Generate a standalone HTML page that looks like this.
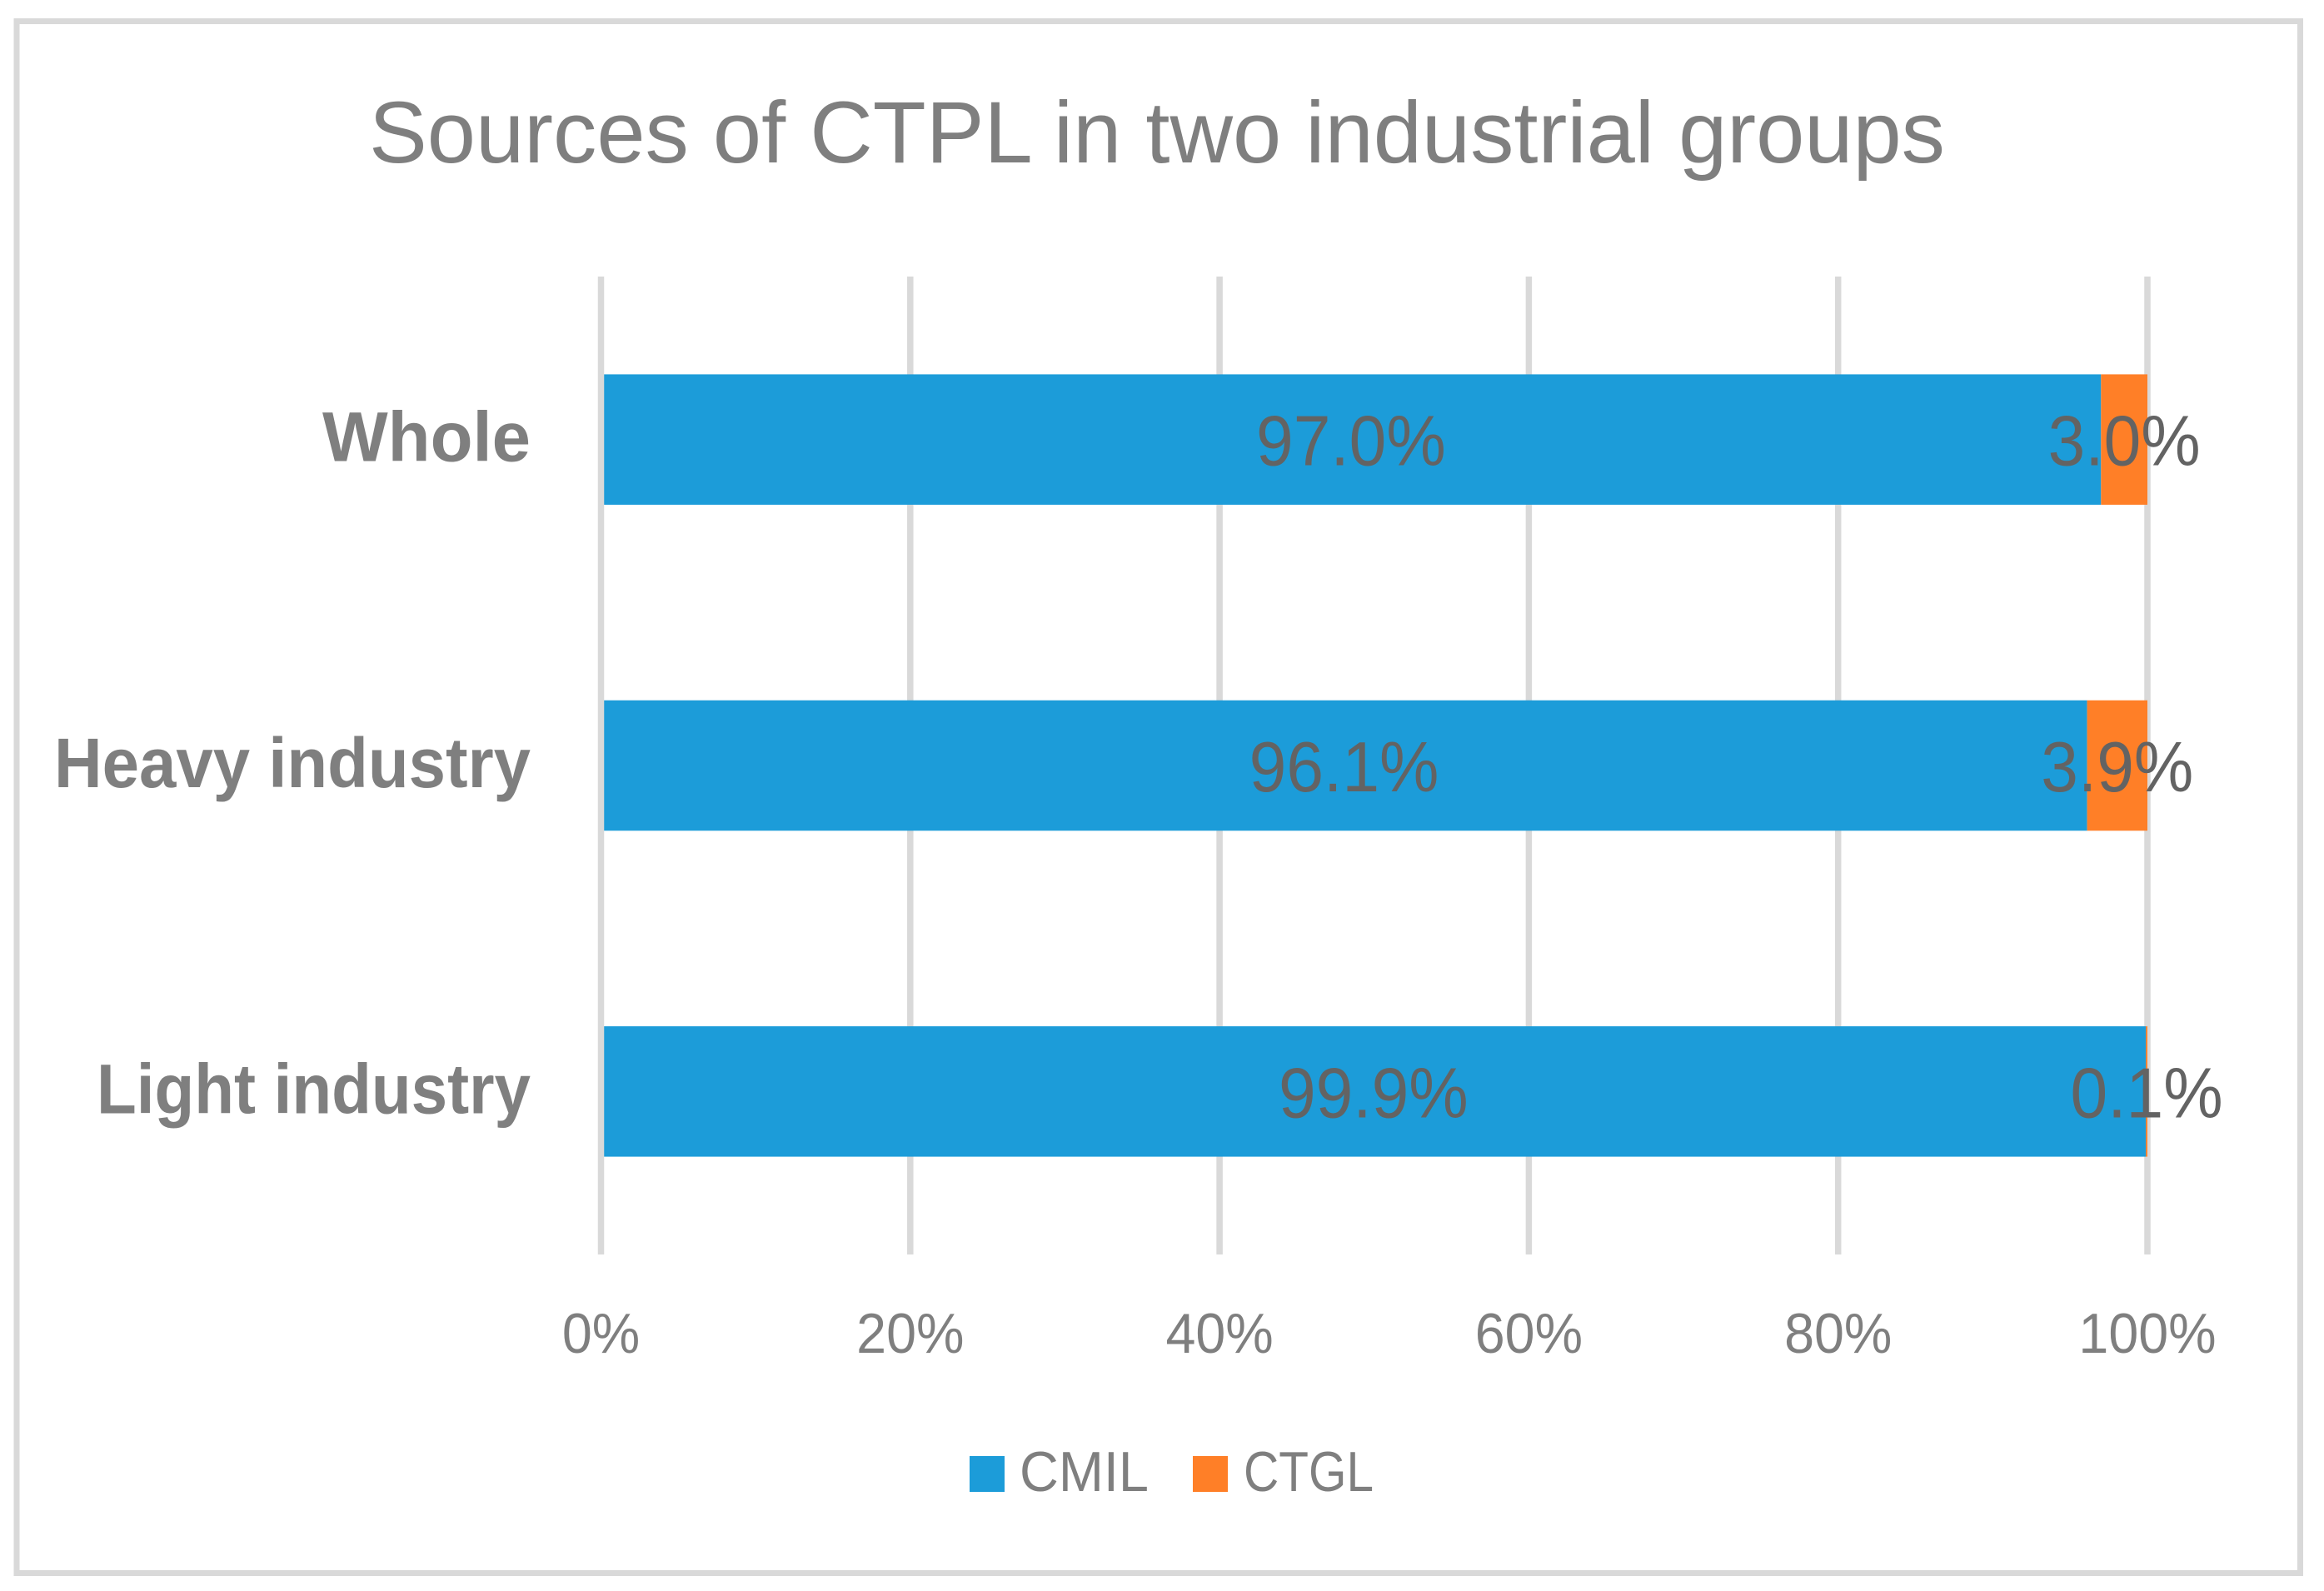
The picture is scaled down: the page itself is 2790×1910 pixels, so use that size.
<!DOCTYPE html>
<html lang="en">
<head>
<meta charset="utf-8">
<title>Sources of CTPL in two industrial groups</title>
<style>
  html, body { margin: 0; padding: 0; background: #ffffff; }
  svg { display: block; font-family: "Liberation Sans", sans-serif; }
</style>
</head>
<body>
<svg id="chart" xmlns="http://www.w3.org/2000/svg" width="2790" height="1910" viewBox="0 0 2790 1910">
  <rect x="0" y="0" width="2790" height="1910" fill="#ffffff"/>
  <rect x="20" y="25.5" width="2741.5" height="1863" fill="#ffffff" stroke="#d9d9d9" stroke-width="7"/>
  <text x="443" y="195" font-size="105" fill="#7f7f7f" textLength="1892" lengthAdjust="spacingAndGlyphs">Sources of CTPL in two industrial groups</text>
  <g id="grid"></g>
  <g id="bars"></g>
  <g id="axis"></g>
  <g id="labels"></g>
  <g id="cats"></g>
  <g id="ticks"></g>
  <g>
    <g>
      <rect x="1164" y="1748" width="42" height="43" fill="#1c9cd9"/>
      <text x="1224" y="1790" font-size="68" fill="#7f7f7f" textLength="155" lengthAdjust="spacingAndGlyphs">CMIL</text>
    </g>
    <g>
      <rect x="1432" y="1748" width="42" height="43" fill="#ff7f27"/>
      <text x="1493" y="1790" font-size="68" fill="#7f7f7f" textLength="156" lengthAdjust="spacingAndGlyphs">CTGL</text>
    </g>
  </g>
</svg>
<script>
const categories = ["Whole", "Heavy industry", "Light industry"];
const cmilValues = [97.0, 96.1, 99.9];
const ctglValues = [3.0, 3.9, 0.1];
const tickValues = [0, 20, 40, 60, 80, 100];
const tickLabels = ["0%", "20%", "40%", "60%", "80%", "100%"];

const SVG_NS = "http://www.w3.org/2000/svg";
const plotLeft = 721.5, plotRight = 2578, plotTop = 332, plotBottom = 1506;
const barFraction = 0.4;

function xScale(v) { return plotLeft + (v / 100) * (plotRight - plotLeft); }
function bandHeight() { return (plotBottom - plotTop) / categories.length; }
function bandCenter(i) { return plotTop + bandHeight() * (i + 0.5); }

function make(tag, attrs, parent, text) {
  const el = document.createElementNS(SVG_NS, tag);
  for (const k in attrs) el.setAttribute(k, attrs[k]);
  if (text !== undefined) el.textContent = text;
  parent.appendChild(el);
  return el;
}
function slug(s) { return s.toLowerCase().replace(/\s+/g, "-"); }

const gridG = document.getElementById("grid");
const barsG = document.getElementById("bars");
const axisG = document.getElementById("axis");
const labelsG = document.getElementById("labels");
const catsG = document.getElementById("cats");
const ticksG = document.getElementById("ticks");

const tickScaleX = 0.95;
const labelScaleX = 0.945;
const catLabelWidths = { "Whole": 250, "Heavy industry": 572, "Light industry": 521 };

tickValues.forEach(function (t, i) {
  const x = xScale(t);
  const target = t === 0 ? axisG : gridG;
  const line = make("line", { x1: x, x2: x, y1: plotTop, y2: plotBottom, stroke: "#d9d9d9", "stroke-width": 7.5 }, target);
  
  
  const label = make("text", {
    transform: "translate(" + x + ",1624) scale(" + tickScaleX + ",1)",
    "text-anchor": "middle", "font-size": 68, fill: "#7f7f7f"
  }, ticksG, tickLabels[i]);
  
  
});

categories.forEach(function (cat, i) {
  const cy = bandCenter(i);
  const h = bandHeight() * barFraction;
  const x0 = xScale(0);
  const x1 = xScale(cmilValues[i]);
  const x2 = xScale(cmilValues[i] + ctglValues[i]);

  const blue = make("rect", { x: x0, y: cy - h / 2, width: x1 - x0, height: h, fill: "#1c9cd9" }, barsG);
  
  

  const orange = make("rect", { x: x1, y: cy - h / 2, width: x2 - x1, height: h, fill: "#ff7f27" }, barsG);
  
  

  const blueLabel = make("text", {
    transform: "translate(" + ((x0 + x1) / 2) + "," + (cy + 31) + ") scale(" + labelScaleX + ",1)",
    "text-anchor": "middle", "font-size": 85, fill: "#636363"
  }, labelsG, cmilValues[i].toFixed(1) + "%");
  
  

  const orangeLabel = make("text", {
    transform: "translate(" + ((x1 + x2) / 2) + "," + (cy + 31) + ") scale(" + labelScaleX + ",1)",
    "text-anchor": "middle", "font-size": 85, fill: "#636363"
  }, labelsG, ctglValues[i].toFixed(1) + "%");
  
  

  const catLabel = make("text", {
    x: 637, y: cy + 26, "text-anchor": "end", "font-size": 84, "font-weight": "bold", fill: "#7f7f7f",
    textLength: catLabelWidths[cat], lengthAdjust: "spacingAndGlyphs"
  }, catsG, cat);
  
  
});
</script>
</body>
</html>
